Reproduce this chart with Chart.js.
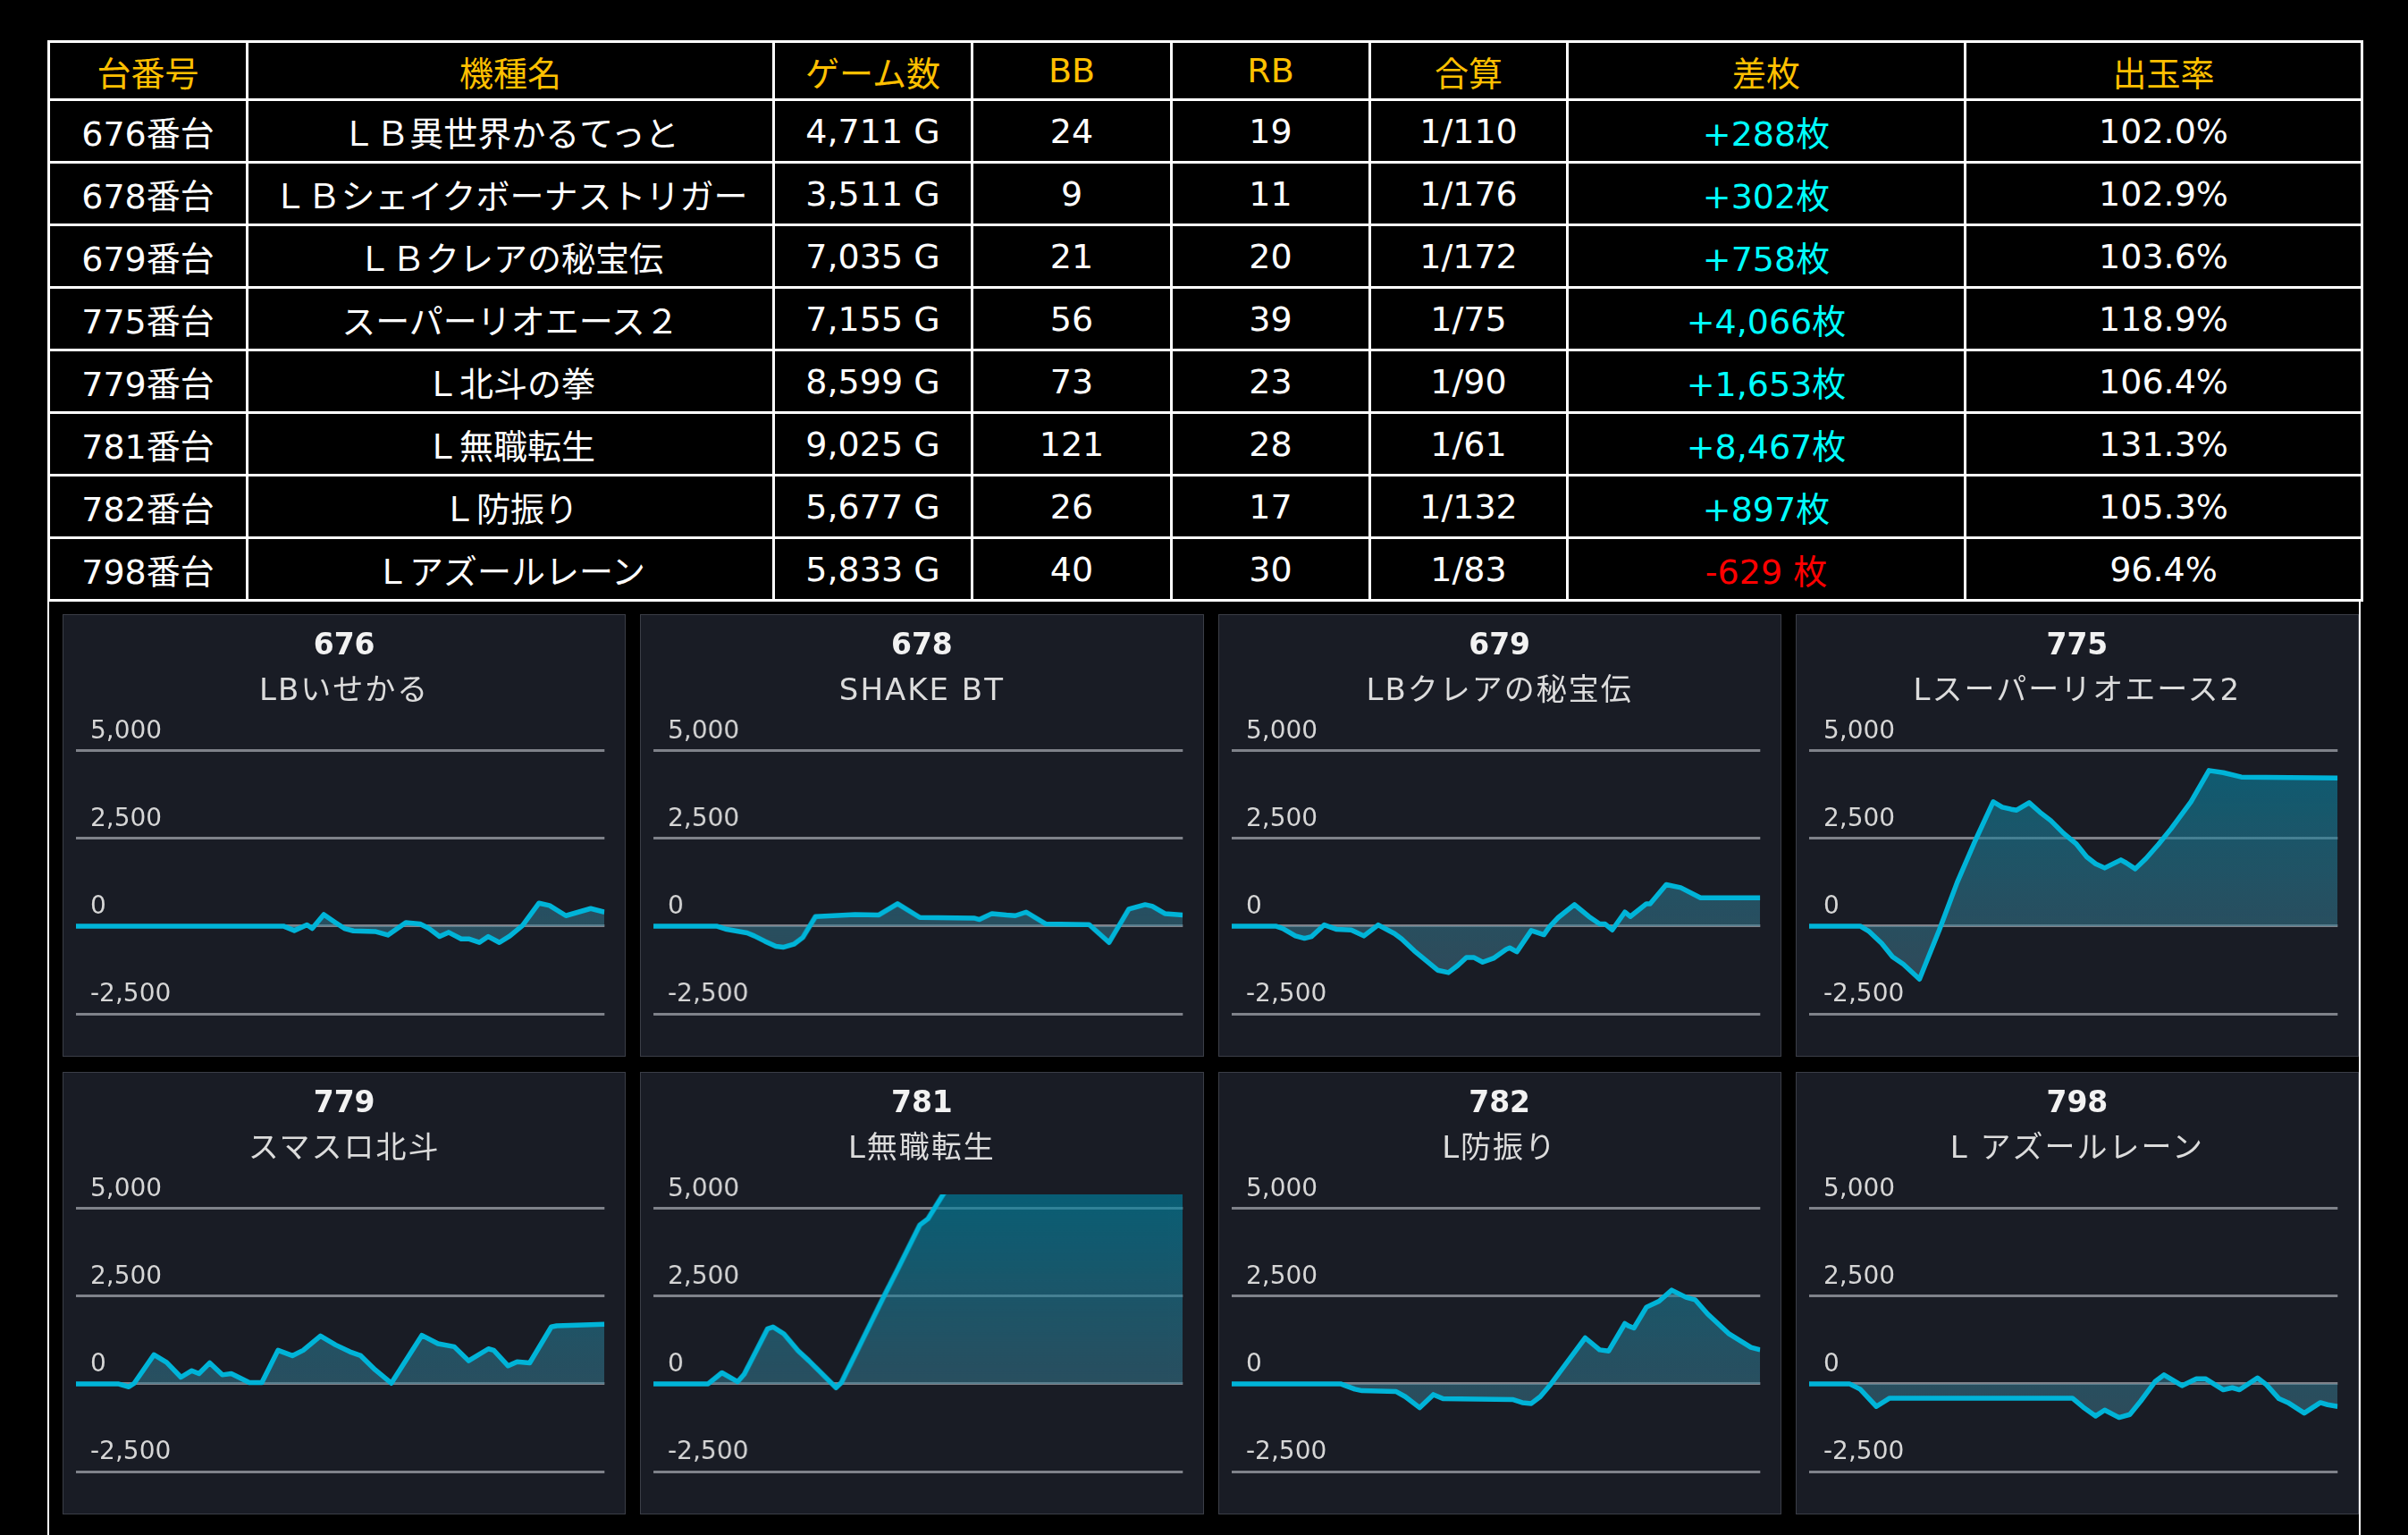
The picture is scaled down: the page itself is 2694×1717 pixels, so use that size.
<!DOCTYPE html>
<html lang="ja">
<head>
<meta charset="utf-8">
<title>台データ</title>
<script src="https://cdn.jsdelivr.net/npm/chart.js@4.4.1/dist/chart.umd.min.js"></script>
<style>
  html, body {
    margin: 0;
    padding: 0;
    background: #000;
  }
  body {
    width: 2694px;
    height: 1717px;
    position: relative;
    overflow: hidden;
  }
  #summary {
    position: absolute;
    top: 45px;
    left: 53px;
    width: 2588px;
    border-collapse: collapse;
    table-layout: fixed;
    font-family: "DejaVu Sans", "Noto Sans CJK JP", sans-serif;
    font-size: 38px;
    color: #fff;
  }
  #summary th, #summary td {
    border: 3px solid #fff;
    padding: 0;
    text-align: center;
    white-space: nowrap;
    font-weight: normal;
  }
  #summary th {
    height: 62px;
    color: #ffc000;
  }
  #summary td {
    height: 67px;
  }
  #summary td.plus { color: #00ffff; }
  #summary td.minus { color: #ff0000; }

  #graphs {
    position: absolute;
    top: 671px;
    left: 53px;
    width: 2588px;
    height: 1046px;
    box-sizing: border-box;
    border-left: 2px solid #fff;
    border-right: 2px solid #fff;
    padding: 16px 0 0 15px;
    display: grid;
    grid-template-columns: repeat(4, 1fr);
    grid-template-rows: 495px 495px;
    column-gap: 16px;
    row-gap: 17px;
  }
  .panel {
    position: relative;
    background: #191c25;
    border: 1px solid #3b3e47;
  }
  .panel .ptitle, .panel .psub {
    position: absolute;
    left: 0;
    right: 0;
    text-align: center;
    font-family: "DejaVu Sans", "Noto Sans CJK JP", sans-serif;
    white-space: nowrap;
  }
  .panel .ptitle {
    top: 12px;
    line-height: 42px;
    font-size: 33px;
    font-weight: bold;
    color: #f2f2f2;
  }
  .panel .psub {
    top: 62px;
    line-height: 42px;
    font-size: 34px;
    letter-spacing: 2px;
    color: #dcdcdc;
  }
  .panel .plot {
    position: absolute;
    inset: 0;
  }
</style>
</head>
<body>

<table id="summary">
  <colgroup>
    <col style="width:222px"><col style="width:589px"><col style="width:222px"><col style="width:223px">
    <col style="width:222px"><col style="width:221px"><col style="width:445px"><col style="width:444px">
  </colgroup>
  <thead><tr id="headRow"></tr></thead>
  <tbody id="bodyRows"></tbody>
</table>

<div id="graphs"></div>

<script>
// 表の列見出し
const headers = ['台番号', '機種名', 'ゲーム数', 'BB', 'RB', '合算', '差枚', '出玉率'];

// 台ごとの集計
const machineNo = [676, 678, 679, 775, 779, 781, 782, 798];
const machineName = [
  'ＬＢ異世界かるてっと',
  'ＬＢシェイクボーナストリガー',
  'ＬＢクレアの秘宝伝',
  'スーパーリオエース２',
  'Ｌ北斗の拳',
  'Ｌ無職転生',
  'Ｌ防振り',
  'Ｌアズールレーン'
];
const games = [4711, 3511, 7035, 7155, 8599, 9025, 5677, 5833];
const bbCount = [24, 9, 21, 56, 73, 121, 26, 40];
const rbCount = [19, 11, 20, 39, 23, 28, 17, 30];
const combined = [110, 176, 172, 75, 90, 61, 132, 83];
const diffCoins = [288, 302, 758, 4066, 1653, 8467, 897, -629];
const payoutRate = [102.0, 102.9, 103.6, 118.9, 106.4, 131.3, 105.3, 96.4];

// グラフの小見出し
const graphNames = [
  'LBいせかる', 'SHAKE BT', 'LBクレアの秘宝伝', 'Lスーパーリオエース2',
  'スマスロ北斗', 'L無職転生', 'L防振り', 'L アズールレーン'
];

// 縦軸の目盛
const yTicks = [-2500, 0, 2500, 5000];
const yMin = -2500;
const yMax = 5400;

// 差枚推移 (ゲーム数, 差枚)
const g676 = [0, 1849, 1946, 2059, 2106, 2209, 2313, 2393, 2473, 2666, 2780, 2940, 3067, 3147, 3241, 3321, 3434, 3500, 3595, 3675, 3774, 3868, 3981, 4127, 4221, 4367, 4588, 4711];
const v676 = [0, 0, -127, 34, -68, 331, 102, -68, -136, -153, -255, 102, 59, -68, -297, -178, -365, -365, -467, -297, -467, -280, 17, 654, 586, 297, 501, 399];

const g678 = [0, 418, 478, 621, 669, 740, 812, 860, 931, 991, 1075, 1194, 1337, 1493, 1619, 1767, 2126, 2162, 2245, 2341, 2400, 2472, 2603, 2890, 3022, 3153, 3261, 3308, 3392, 3511];
const v678 = [0, 0, -85, -195, -280, -433, -578, -603, -518, -323, 272, 297, 331, 314, 637, 246, 229, 187, 357, 314, 297, 399, 59, 42, -467, 484, 612, 569, 357, 314];

const g679 = [0, 585, 680, 848, 968, 1064, 1232, 1399, 1591, 1759, 1950, 2166, 2262, 2430, 2597, 2741, 2885, 3005, 3124, 3221, 3340, 3484, 3652, 3700, 3795, 3987, 4059, 4155, 4227, 4347, 4562, 4754, 4898, 4970, 5065, 5233, 5305, 5520, 5569, 5784, 5976, 6240, 7035];
const v679 = [0, 0, -68, -280, -348, -297, 34, -93, -110, -280, 34, -212, -365, -705, -1002, -1257, -1325, -1130, -892, -892, -1028, -917, -663, -620, -731, -127, -178, -246, -25, 246, 612, 272, 59, 59, -110, 399, 272, 637, 637, 1181, 1096, 807, 807];

const g775 = [0, 691, 813, 983, 1129, 1275, 1494, 1762, 2005, 2249, 2492, 2614, 2735, 2809, 2979, 3125, 3271, 3441, 3612, 3758, 3879, 4001, 4098, 4220, 4293, 4415, 4561, 4731, 4901, 5169, 5413, 5607, 5851, 7155];
const v775 = [0, 0, -153, -493, -875, -1087, -1512, -110, 1249, 2438, 3543, 3390, 3331, 3305, 3517, 3245, 3007, 2650, 2353, 1971, 1776, 1657, 1759, 1886, 1801, 1631, 1929, 2336, 2778, 3543, 4435, 4375, 4248, 4222];

const g779 = [0, 684, 860, 948, 1269, 1474, 1708, 1884, 2001, 2176, 2381, 2527, 2820, 3024, 3287, 3521, 3697, 3978, 4224, 4458, 4633, 4867, 5130, 5627, 5890, 6154, 6388, 6710, 6797, 7031, 7178, 7382, 7733, 7821, 8599];
const v779 = [0, 0, -85, 17, 828, 614, 188, 375, 290, 597, 256, 290, 34, 34, 956, 802, 956, 1365, 1109, 913, 802, 401, 17, 1382, 1143, 1058, 657, 998, 956, 512, 631, 597, 1621, 1655, 1698];

const g781 = [0, 933, 1167, 1437, 1547, 1946, 2039, 2223, 2468, 2652, 3113, 3205, 3941, 4187, 4543, 4678, 4955, 9025];
const v781 = [0, 0, 316, 60, 273, 1570, 1621, 1425, 939, 657, -111, 34, 2534, 3345, 4531, 4701, 5444, 8467];

const g782 = [0, 1168, 1323, 1400, 1767, 1864, 2019, 2166, 2270, 3024, 3121, 3218, 3314, 3430, 3566, 3797, 3952, 4049, 4223, 4262, 4320, 4455, 4590, 4726, 4880, 4977, 5112, 5344, 5577, 5677];
const v782 = [0, 0, -153, -196, -221, -366, -680, -306, -425, -451, -536, -561, -366, 0, 485, 1310, 969, 935, 1718, 1650, 1590, 2186, 2355, 2670, 2466, 2398, 1990, 1420, 1037, 969];

const g798 = [0, 444, 563, 742, 889, 2905, 3024, 3162, 3262, 3420, 3539, 3659, 3817, 3916, 4115, 4274, 4373, 4571, 4670, 4750, 4948, 5047, 5186, 5285, 5464, 5642, 5722, 5833];
const v798 = [0, 0, -153, -646, -408, -408, -663, -918, -748, -961, -876, -493, 60, 255, -51, 145, 145, -170, -111, -170, 170, -26, -425, -536, -833, -536, -595, -646];

const seriesGames = [g676, g678, g679, g775, g779, g781, g782, g798];
const seriesValues = [v676, v678, v679, v775, v779, v781, v782, v798];

const LINE_COLOR = '#00b4d8';
const GRID_COLOR = '#7f828a';
const TICK_COLOR = '#d6d6d6';

/**
 * 表を組み立てる
 */
function buildTable() {
  const head = document.getElementById('headRow');
  headers.forEach(h => {
    const th = document.createElement('th');
    th.textContent = h;
    head.appendChild(th);
  });

  const body = document.getElementById('bodyRows');
  machineNo.forEach((no, i) => {
    const tr = document.createElement('tr');
    const diff = diffCoins[i];
    const cells = [
      `${no}番台`,
      machineName[i],
      `${games[i].toLocaleString('en-US')} G`,
      bbCount[i],
      rbCount[i],
      `1/${combined[i]}`,
      diff >= 0 ? `+${diff.toLocaleString('en-US')}枚` : `${diff.toLocaleString('en-US')} 枚`,
      `${payoutRate[i].toFixed(1)}%`
    ];
    cells.forEach((text, c) => {
      const td = document.createElement('td');
      td.textContent = text;
      if (c === 6) td.className = diff >= 0 ? 'plus' : 'minus';
      tr.appendChild(td);
    });
    body.appendChild(tr);
  });
}

/**
 * 塗りのグラデーション
 */
function areaFill(context) {
  const { chart } = context;
  const area = chart.chartArea;
  if (!area) return 'rgba(40,120,145,0.5)';
  const grad = chart.ctx.createLinearGradient(0, area.top, 0, area.bottom);
  grad.addColorStop(0, 'rgba(0,130,160,0.65)');
  grad.addColorStop(1, 'rgba(80,120,140,0.48)');
  return grad;
}

/**
 * 差枚グラフを1枚作る
 */
function buildGraph(i) {
  const panel = document.createElement('div');
  panel.className = 'panel';

  const title = document.createElement('div');
  title.className = 'ptitle';
  title.textContent = String(machineNo[i]);
  const sub = document.createElement('div');
  sub.className = 'psub';
  sub.textContent = graphNames[i];
  const wrap = document.createElement('div');
  wrap.className = 'plot';
  const canvas = document.createElement('canvas');
  wrap.appendChild(canvas);

  panel.appendChild(wrap);
  panel.appendChild(title);
  panel.appendChild(sub);
  document.getElementById('graphs').appendChild(panel);

  const points = seriesGames[i].map((g, k) => ({ x: g, y: seriesValues[i][k] }));

  return new Chart(canvas.getContext('2d'), {
    type: 'line',
    data: {
      datasets: [{
        data: points,
        borderColor: LINE_COLOR,
        borderWidth: 5.5,
        backgroundColor: areaFill,
        fill: 'origin',
        pointRadius: 0,
        tension: 0,
        borderJoinStyle: 'round'
      }]
    },
    options: {
      responsive: true,
      maintainAspectRatio: false,
      animation: false,
      layout: {
        padding: { top: 136, bottom: 47, left: 14, right: 23 }
      },
      plugins: {
        legend: { display: false },
        tooltip: { enabled: false }
      },
      scales: {
        x: {
          type: 'linear',
          display: false,
          min: 0,
          max: games[i]
        },
        y: {
          min: yMin,
          max: yMax,
          afterBuildTicks: scale => {
            scale.ticks = yTicks.map(v => ({ value: v }));
          },
          afterFit: scale => {
            scale.width = 0;
          },
          border: { display: false },
          grid: {
            color: GRID_COLOR,
            lineWidth: 3,
            drawTicks: false
          },
          ticks: {
            mirror: true,
            padding: 16,
            labelOffset: -21,
            color: TICK_COLOR,
            font: { family: '"DejaVu Sans", sans-serif', size: 28 },
            callback: v => v.toLocaleString('en-US')
          }
        }
      }
    }
  });
}

buildTable();
machineNo.forEach((_, i) => buildGraph(i));
</script>
</body>
</html>
